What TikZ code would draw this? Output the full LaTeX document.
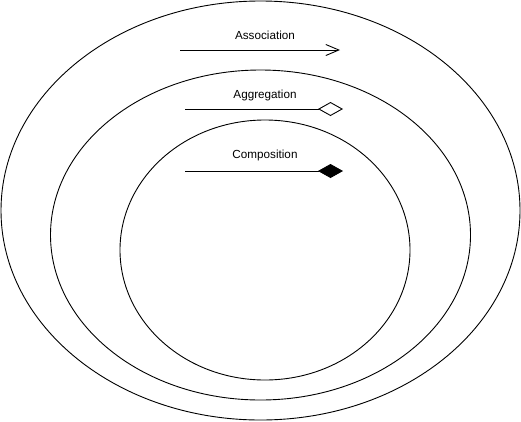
\documentclass[tikz,border=0pt]{standalone}
\usepackage{fontspec}
\setmainfont{Liberation Sans}
\usetikzlibrary{shapes.geometric,arrows.meta}
\begin{document}
\begin{tikzpicture}[x=1pt,y=-1pt,
  ring/.style={draw,ellipse,line width=0.9pt,inner sep=0pt},
  lbl/.style={font=\fontsize{11.7}{14}\selectfont,inner sep=0pt},
  rel/.style={line width=0.9pt}]
\useasboundingbox (0,0) rectangle (521,421);
\node[ring,minimum width=519pt,minimum height=419pt] (outer) at (260.5,210.5) {};
\node[ring,minimum width=420pt,minimum height=330pt] (middle) at (260.5,235) {};
\node[ring,minimum width=290pt,minimum height=260pt] (inner) at (265,250) {};
\node[lbl] (assoc) at (265,35) {Association};
\node[lbl] (aggr) at (265,95) {Aggregation};
\node[lbl] (comp) at (265,155) {Composition};
\coordinate (a1) at (180,50);
\coordinate (a2) at (340,50);
\coordinate (g1) at (185,109);
\coordinate (g2) at (343,109);
\coordinate (c1) at (185,171);
\coordinate (c2) at (343,171);
\draw[rel,-{Straight Barb[length=13pt,width=11pt]}] (a1) -- (a2);
\draw[rel,-{Diamond[open,length=25pt,width=14pt]}] (g1) -- (g2);
\draw[rel,-{Diamond[length=25pt,width=14pt]}] (c1) -- (c2);
\end{tikzpicture}
\end{document}
